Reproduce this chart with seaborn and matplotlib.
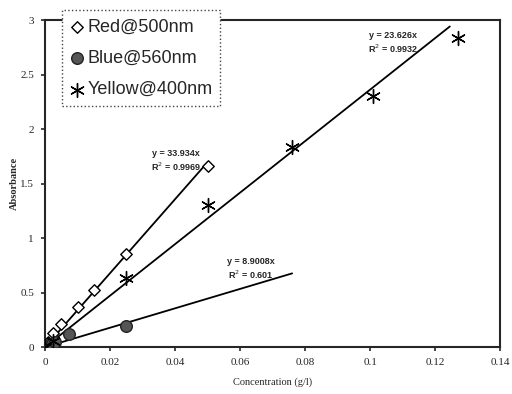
import numpy as np
import seaborn as sns
import matplotlib.pyplot as plt

# values
conc_red = [0, 0.001, 0.0025, 0.005, 0.01, 0.015, 0.025, 0.05]
abs_red = [0, 0.05, 0.13, 0.21, 0.37, 0.52, 0.85, 1.66]
conc_blue = [0, 0.001, 0.002, 0.003, 0.0075, 0.025]
abs_blue = [0, 0.02, 0.03, 0.05, 0.12, 0.19]
conc_yellow = [0, 0.0025, 0.025, 0.05, 0.076, 0.101, 0.127]
abs_yellow = [0, 0.06, 0.63, 1.30, 1.84, 2.30, 2.84]

series = ['Red@500nm', 'Blue@560nm', 'Yellow@400nm']
slopes = [33.934, 8.9008, 23.626]
r2 = ['0.9969', '0.601', '0.9932']
fit_end = [0.05, 0.076, 0.1245]
eq_pos = [(0.0403, 1.60), (0.0634, 0.61), (0.107, 2.68)]

sns.set_style('ticks')
plt.rcParams['font.family'] = ['Liberation Serif', 'DejaVu Serif']

fig = plt.figure(figsize=(5.12, 3.94), dpi=100)
ax = fig.add_axes([0.088, 0.119, 0.889, 0.830])

# trend lines
for name, k, xe in zip(series, slopes, fit_end):
    xs = np.array([0, xe])
    sns.lineplot(x=xs, y=k * xs, ax=ax, color='black', lw=1.3, legend=False)

sns.scatterplot(x=conc_red, y=abs_red, ax=ax, marker='D', s=34,
                facecolor='white', edgecolor='black', linewidth=1, label=series[0], zorder=3)
sns.scatterplot(x=conc_blue, y=abs_blue, ax=ax, marker='o', s=70,
                color='#555555', edgecolor='#222222', linewidth=1, label=series[1], zorder=3)
sns.scatterplot(x=conc_yellow, y=abs_yellow, ax=ax, marker=(6, 2, 0), s=100,
                color='black', linewidth=1, label=series[2], zorder=3)

for (x, y), k, r in zip(eq_pos, slopes, r2):
    ax.text(x, y, f'y = {k}x\nR$^2$ = {r}', fontsize=6.5, ha='center', va='bottom',
            weight='bold', family=['Liberation Sans Narrow', 'Liberation Sans'],
            linespacing=1.25)

ax.set_xlim(0, 0.14)
ax.set_ylim(0, 3)
ax.set_xticks(np.arange(0, 0.141, 0.02))
ax.set_xticklabels(['0', '0.02', '0.04', '0.06', '0.08', '0.1', '0.12', '0.14'])
ax.set_yticks([0, 0.5, 1, 1.5, 2, 2.5, 3])
ax.set_yticklabels(['0', '0.5', '1', '1.5', '2', '2.5', '3'])
ax.tick_params(labelsize=8, length=3, width=1.2, pad=5)
ax.set_xlabel('Concentration (g/l)', fontsize=7.5, labelpad=7)
ax.set_ylabel('Absorbance', fontsize=7.5, weight='bold', labelpad=1)
for sp in ax.spines.values():
    sp.set_linewidth(1.5)
    sp.set_visible(True)

leg = ax.legend(loc='upper left', bbox_to_anchor=(0.037, 1.03), borderaxespad=0,
                prop={'family': 'Liberation Sans', 'size': 13}, handletextpad=0.15,
                handlelength=0.8, labelspacing=0.8, fancybox=False, framealpha=1,
                borderpad=0.45)
leg.get_frame().set_edgecolor('#444444')
leg.get_frame().set_linestyle(':')

fig.savefig('out.png', dpi=100)
